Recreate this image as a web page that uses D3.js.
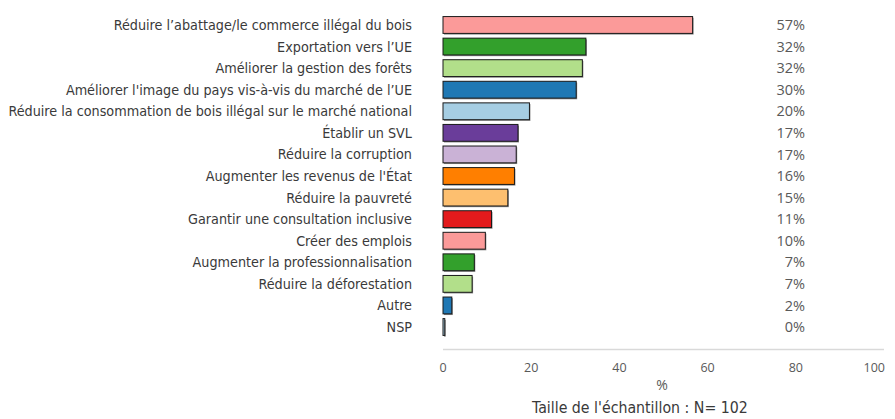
<!DOCTYPE html>
<html>
<head>
<meta charset="utf-8">
<script src="https://cdn.jsdelivr.net/npm/d3@7"></script>
<style>
  html, body { margin: 0; padding: 0; background: #fff; }
  svg { display: block; }
  .cat { font-family: "Liberation Sans Narrow", "DejaVu Sans Condensed", sans-serif; fill: #3a3a3a; }
  .val, .tick-lbl { font-family: "Open Sans", "Noto Sans", sans-serif; fill: #595959; }
  .foot { font-family: "Liberation Sans Narrow", "DejaVu Sans Condensed", sans-serif; fill: #3a3a3a; }
</style>
</head>
<body>
<svg id="chart" width="895" height="419"></svg>
<script>
// Objectifs cités (% des répondants)
const categories = [
  "Réduire l’abattage/le commerce illégal du bois",
  "Exportation vers l’UE",
  "Améliorer la gestion des forêts",
  "Améliorer l'image du pays vis-à-vis du marché de l’UE",
  "Réduire la consommation de bois illégal sur le marché national",
  "Établir un SVL",
  "Réduire la corruption",
  "Augmenter les revenus de l'État",
  "Réduire la pauvreté",
  "Garantir une consultation inclusive",
  "Créer des emplois",
  "Augmenter la professionnalisation",
  "Réduire la déforestation",
  "Autre",
  "NSP"
];
const values = [56.6, 32.4, 31.6, 30.2, 19.6, 17.0, 16.6, 16.2, 14.7, 11.0, 9.6, 7.1, 6.6, 2.0, 0.4];
const barColors = [
  "#fb9a99", "#33a02c", "#b2df8a", "#1f78b4", "#a6cee3",
  "#6a3d9a", "#cab2d6", "#ff7f00", "#fdbf6f", "#e31a1c",
  "#fb9a99", "#33a02c", "#b2df8a", "#1f78b4", "#a6cee3"
];
const xTicks = [0, 20, 40, 60, 80, 100];
const xTitle = "%";
const sampleNote = "Taille de l'échantillon : N= 102";

const svg = d3.select("#chart");

const x = d3.scaleLinear().domain([0, 100]).range([443, 884]);
const y = d3.scaleBand()
  .domain(categories)
  .range([14.2, 337.8])
  .paddingInner(0.22)
  .paddingOuter(0.11);

// axis baseline
svg.append("line")
  .attr("x1", x(0)).attr("x2", x(100))
  .attr("y1", 349.5).attr("y2", 349.5)
  .attr("stroke", "#d9d9d9").attr("stroke-width", 1.5);

// tick labels
svg.append("g").selectAll("text")
  .data(xTicks)
  .join("text")
  .attr("class", "tick-lbl")
  .attr("x", d => d === 100 ? x(d) + 1 : x(d))
  .attr("y", 372)
  .attr("text-anchor", d => d === 100 ? "end" : "middle")
  .attr("font-size", 12.5)
  .text(d => d);

// bar shadows
svg.append("g").selectAll("rect")
  .data(values)
  .join("rect")
  .attr("x", x(0) + 1)
  .attr("y", (d, i) => y(categories[i]) + 1.2)
  .attr("width", d => x(d) - x(0))
  .attr("height", y.bandwidth())
  .attr("fill", "#8c8c8c");

// bars
svg.append("g").selectAll("rect")
  .data(values)
  .join("rect")
  .attr("x", x(0))
  .attr("y", (d, i) => y(categories[i]))
  .attr("width", d => x(d) - x(0))
  .attr("height", y.bandwidth())
  .attr("fill", (d, i) => barColors[i])
  .attr("stroke", "#1a1a1a")
  .attr("stroke-width", 1);

// category labels, sized so the longest one fits the left margin
const labelRight = 412, labelLeft = 8;
const cats = svg.append("g").selectAll("text")
  .data(categories)
  .join("text")
  .attr("class", "cat")
  .attr("x", labelRight)
  .attr("y", d => y(d) + y.bandwidth() / 2)
  .attr("dy", "0.35em")
  .attr("text-anchor", "end")
  .attr("font-size", 15)
  .text(d => d);
const widest = d3.max(cats.nodes(), n => n.getComputedTextLength());
const catSize = 15 * (labelRight - labelLeft) / widest;
cats.attr("font-size", catSize);

// value labels
svg.append("g").selectAll("text")
  .data(values)
  .join("text")
  .attr("class", "val")
  .attr("x", 805)
  .attr("y", (d, i) => y(categories[i]) + y.bandwidth() / 2)
  .attr("dy", "0.35em")
  .attr("text-anchor", "end")
  .attr("font-size", 14.5)
  .text(d => Math.round(d) + "%");

// axis title and sample size
svg.append("text")
  .attr("class", "tick-lbl")
  .attr("x", 662).attr("y", 390)
  .attr("text-anchor", "middle")
  .attr("font-size", 14)
  .text(xTitle);

const foot = svg.append("text")
  .attr("class", "foot")
  .attr("x", 640).attr("y", 413)
  .attr("text-anchor", "middle")
  .attr("font-size", 15)
  .text(sampleNote);
foot.attr("font-size", 15 * 216 / foot.node().getComputedTextLength());
</script>
</body>
</html>
